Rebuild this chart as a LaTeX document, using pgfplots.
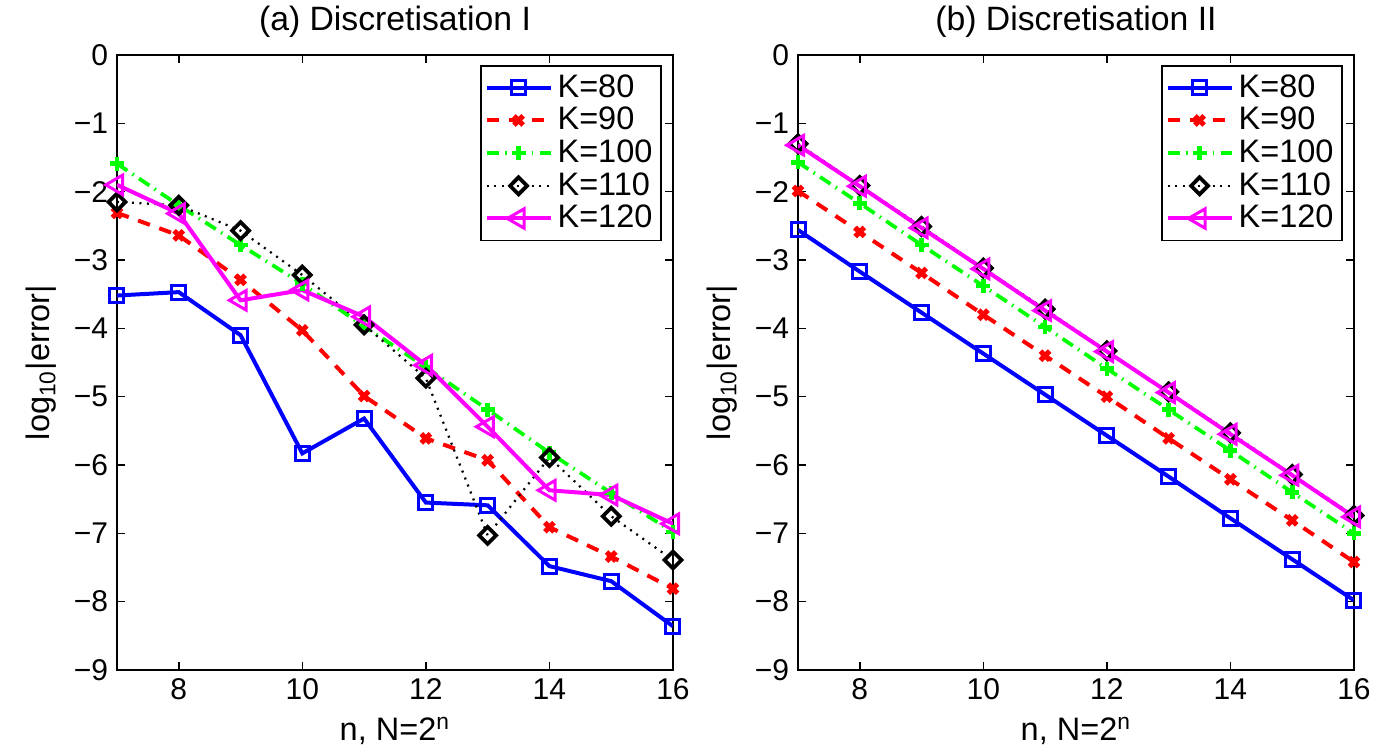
\documentclass[border=0pt]{standalone}
\usepackage{fontspec}
\setmainfont{Liberation Sans}
\usepackage{pgfplots}
\pgfplotsset{compat=1.18}
\definecolor{mblue}{rgb}{0,0,1}
\definecolor{mred}{rgb}{1,0,0}
\definecolor{mgreen}{rgb}{0,1,0}
\definecolor{mmag}{rgb}{1,0,1}

% 1 px of the reference = 0.4pt
\pgfplotsset{
  errpanel/.style={
    scale only axis,
    width=222.4pt, height=246pt,
    xmin=7, xmax=16, ymin=-9, ymax=0,
    xtick={8,10,...,16},
    ytick={-9,-8,...,0},
    yticklabels={−9,−8,−7,−6,−5,−4,−3,−2,−1,0},
    /pgf/number format/assume math mode=true,
    tick label style={font=\fontsize{12}{14}\selectfont},
    label style={font=\fontsize{13}{15}\selectfont},
    title style={font=\fontsize{13.5}{15}\selectfont, yshift=-2.5pt},
    xlabel={n, N=2\textsuperscript{n}},
    ylabel={log\textsubscript{10}|error|},
    axis line style={line width=0.8pt},
    major tick length=3.2pt,
    tick style={black, line width=0.6pt},
    legend style={at={(1,1)}, anchor=north east, xshift=-4.4pt, yshift=-4pt,
                  font=\fontsize{13}{15}\selectfont, legend cell align=left,
                  draw=black, line width=0.6pt, inner sep=1.5pt, row sep=-1.5pt},
    legend image code/.code={
      \draw[mark repeat=2, mark phase=2, #1]
        plot coordinates {(0cm,0cm) (0.45cm,0cm) (0.9cm,0cm)};},
  },
  k80/.style={mblue, line width=1.6pt, mark=square, mark size=2.8pt,
              mark options={solid, line width=1.2pt}},
  k90/.style={mred, line width=1.6pt, dash pattern=on 5pt off 4pt,
              mark=x, mark size=2.6pt, mark options={solid, line width=2pt}},
  k100/.style={mgreen, line width=1.5pt, dash pattern=on 5pt off 2.5pt on 0.6pt off 2.5pt,
               mark=+, mark size=2.8pt, mark options={solid, line width=1.9pt}},
  k110/.style={black, line width=0.9pt, dash pattern=on 0.8pt off 2.2pt,
               mark=diamond, mark size=3.4pt,
               mark options={solid, line width=1.5pt, xscale=1.33}},
  k120/.style={mmag, line width=1.6pt, mark=triangle, mark size=4.5pt,
               mark options={solid, rotate=90, line width=1.2pt}},
}

\begin{document}
\begin{tikzpicture}
\begin{axis}[errpanel, at={(0,0)}, anchor=south west,
  title={(a) Discretisation I}]
\addplot[k80] coordinates {(7,-3.52)(8,-3.47)(9,-4.10)(10,-5.83)(11,-5.32)
  (12,-6.55)(13,-6.59)(14,-7.48)(15,-7.70)(16,-8.36)};
\addplot[k90] coordinates {(7,-2.31)(8,-2.64)(9,-3.29)(10,-4.03)(11,-4.99)
  (12,-5.61)(13,-5.93)(14,-6.91)(15,-7.34)(16,-7.81)};
\addplot[k100] coordinates {(7,-1.59)(8,-2.20)(9,-2.78)(10,-3.35)(11,-3.97)
  (12,-4.57)(13,-5.19)(14,-5.82)(15,-6.41)(16,-6.98)};
\addplot[k110] coordinates {(7,-2.15)(8,-2.20)(9,-2.57)(10,-3.22)(11,-3.95)
  (12,-4.73)(13,-7.03)(14,-5.89)(15,-6.75)(16,-7.39)};
\addplot[k120] coordinates {(7,-1.90)(8,-2.32)(9,-3.59)(10,-3.44)(11,-3.83)
  (12,-4.54)(13,-5.44)(14,-6.37)(15,-6.44)(16,-6.86)};
\legend{K=80,K=90,K=100,K=110,K=120}
\end{axis}

\begin{axis}[errpanel, at={(272.4pt,0)}, anchor=south west,
  title={(b) Discretisation II}]
\addplot[k80] coordinates {(7,-2.56)(8,-3.17)(9,-3.77)(10,-4.37)(11,-4.97)
  (12,-5.57)(13,-6.17)(14,-6.78)(15,-7.38)(16,-7.98)};
\addplot[k90] coordinates {(7,-1.99)(8,-2.59)(9,-3.19)(10,-3.80)(11,-4.40)
  (12,-5.00)(13,-5.61)(14,-6.21)(15,-6.81)(16,-7.42)};
\addplot[k100] coordinates {(7,-1.57)(8,-2.17)(9,-2.78)(10,-3.38)(11,-3.98)
  (12,-4.59)(13,-5.19)(14,-5.79)(15,-6.40)(16,-7.00)};
\addplot[k110] coordinates {(7,-1.30)(8,-1.91)(9,-2.51)(10,-3.12)(11,-3.72)
  (12,-4.33)(13,-4.93)(14,-5.53)(15,-6.14)(16,-6.74)};
\addplot[k120] coordinates {(7,-1.32)(8,-1.92)(9,-2.53)(10,-3.13)(11,-3.74)
  (12,-4.34)(13,-4.94)(14,-5.55)(15,-6.15)(16,-6.76)};
\legend{K=80,K=90,K=100,K=110,K=120}
\end{axis}

\pgfresetboundingbox
\path (-46.8pt,-32pt) rectangle (503.2pt,268pt);
\end{tikzpicture}
\end{document}
